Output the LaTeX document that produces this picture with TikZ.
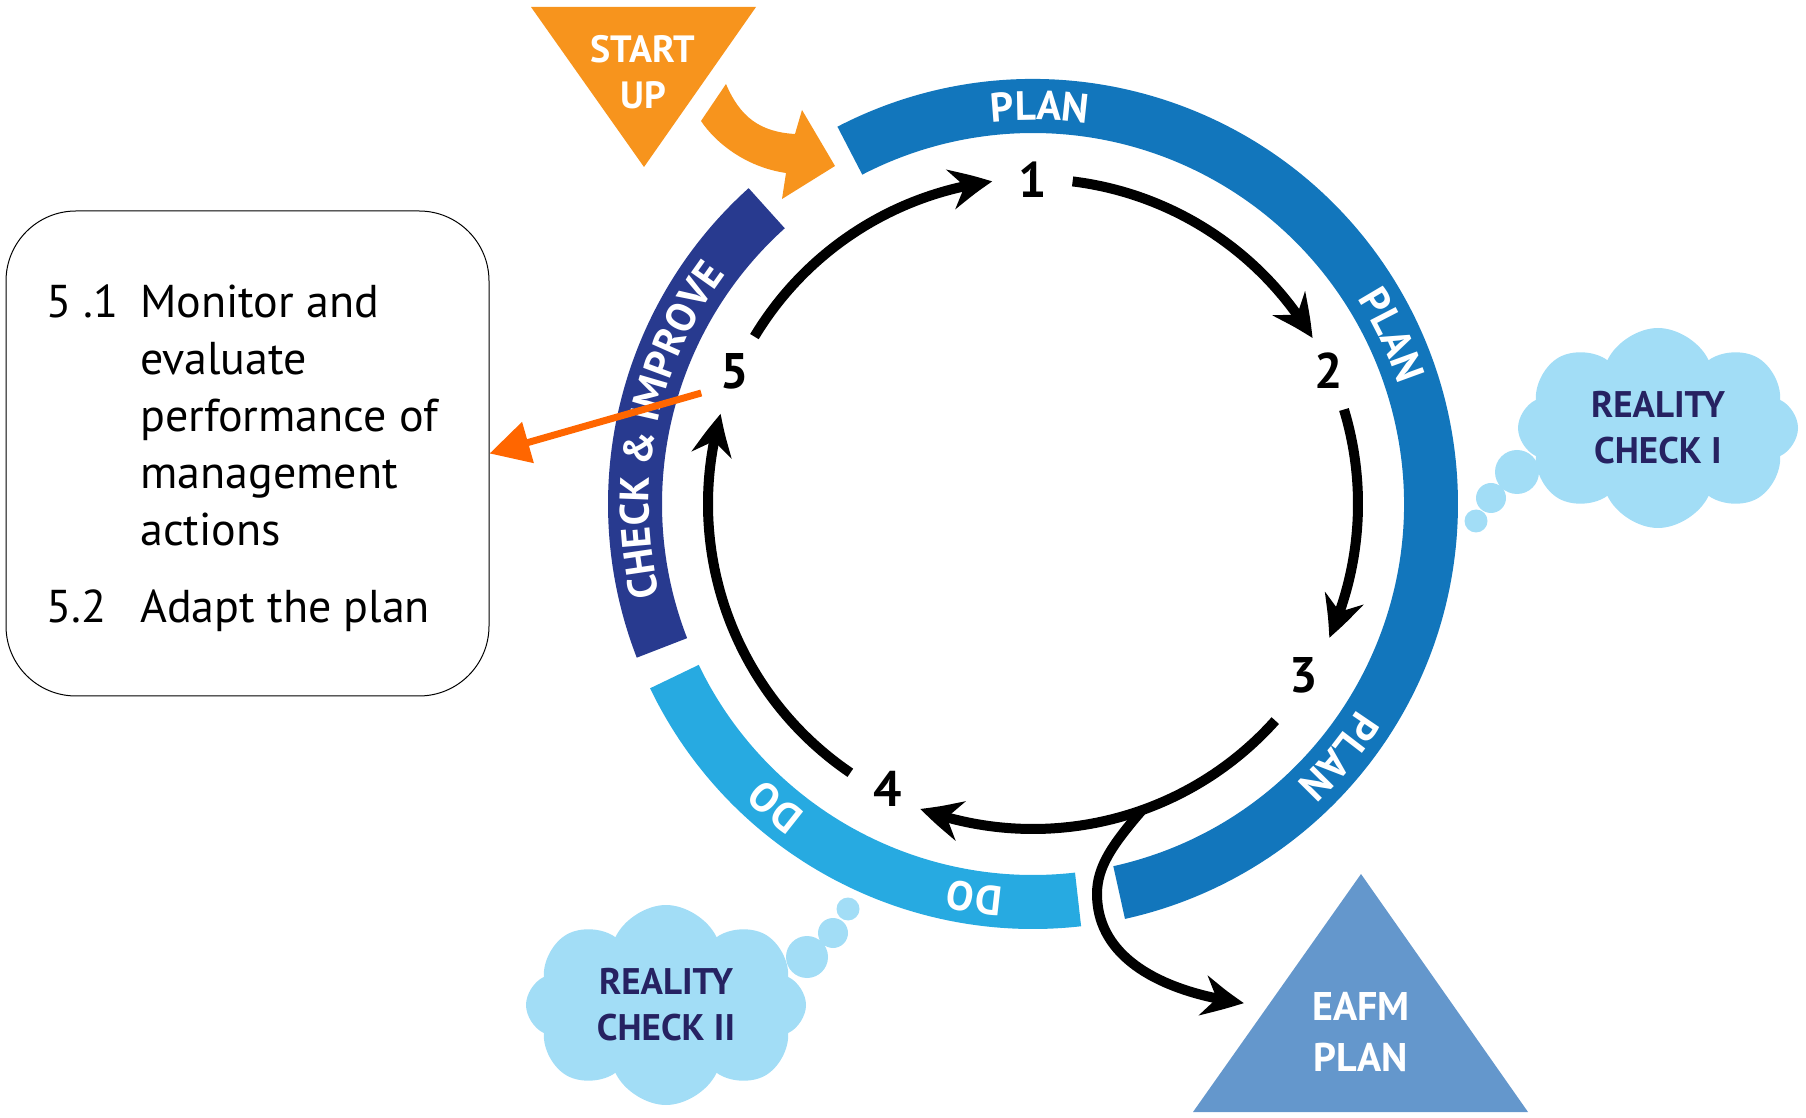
\documentclass[tikz,border=0pt]{standalone}
\usepackage{fontspec}
\setmainfont{PT Sans}
\usetikzlibrary{calc}
\usetikzlibrary{bending}
\usetikzlibrary{arrows.meta}
\usetikzlibrary{shapes.symbols}
\usetikzlibrary{decorations.text}
\definecolor{planblue}{HTML}{1276BC}
\definecolor{doblue}{HTML}{27AAE1}
\definecolor{checkblue}{HTML}{283A8F}
\definecolor{startorange}{HTML}{F7941D}
\definecolor{linkorange}{HTML}{FF6600}
\definecolor{cloudblue}{HTML}{A2DDF6}
\definecolor{cloudtext}{HTML}{262262}
\definecolor{eafmblue}{HTML}{6497CC}
\newcommand{\bandfont}{\fontsize{41}{41}\selectfont\bfseries}
\tikzstyle{cyclearrow}=[line width=10pt,-{Stealth[length=42pt,width=40pt,inset=14pt,bend]}]
\tikzstyle{cyclenum}=[font=\fontsize{50}{50}\selectfont\bfseries,inner sep=0pt]
\tikzstyle{thought}=[cloud,cloud puffs=8,cloud puff arc=130,aspect=1.3,fill=cloudblue,text=cloudtext,font=\fontsize{37}{46}\selectfont\bfseries,align=center,minimum width=280pt,minimum height=200pt]
\tikzstyle{whitelabel}=[text=white,font=\fontsize{38}{46}\selectfont\bfseries,align=center]
\def\ringpart[#1](#2)(#3:#4)% Syntax: [fill colour] (center) (initial angle:final angle)
    { \fill[#1] ($(#2)+(#3:425)$) arc (#3:#4:425) -- ($(#2)+(#4:371)$) arc (#4:#3:371) -- cycle; }
\def\ringlabel(#1)(#2)#3% Syntax: (center) (mid angle) {text}, always read clockwise
    { \path[decorate,decoration={text along path,text align=center,text color=white,text={|\bandfont|#3}}] ($(#1)+(#2+40:384)$) arc (#2+40:#2-40:384); }
\newcommand{\cyclearc}[2]{ % from angle, to angle on the inner cycle
\draw[cyclearrow] ($(C)+(#1:325)$) arc (#1:#2:325);
}
\begin{document}
\begin{tikzpicture}[x=1pt,y=1pt]
\useasboundingbox (0,0) rectangle (1806,1117);
\coordinate (C) at (1033,613);
% the ring
\ringpart[planblue](C)(117.4:-77.5)
\ringpart[doblue](C)(205.7:276.5)
\ringpart[checkblue](C)(201.2:132)
\ringlabel(C)(89){PLAN}
\ringlabel(C)(25.2){PLAN}
\ringlabel(C)(-39.6){PLAN}
\ringlabel(C)(-98.5){DO}
\ringlabel(C)(-130.4){DO}
\ringlabel(C)(168.5){CHECK {\&} IMPROVE}
% start up
\fill[startorange] (531,1110) -- (756,1110) -- (644,950) -- cycle;
\node[whitelabel] (startup) at (643,1045) {START\\UP};
\fill[startorange] (726,1033) .. controls (740,1000) and (760,985) .. (795,983) -- (802,1007) -- (835,951) -- (782,918) -- (786,944) .. controls (745,950) and (715,975) .. (701,996) -- cycle;
% steps
\foreach \i/\a/\r in {1/90/324, 2/24.3/324, 3/-32.3/320, 4/-117/320, 5/156/327}
  \node[cyclenum] (n\i) at ($(C)+(\a:\r)$) {\i};
\cyclearc{83}{30.7}
\cyclearc{16.9}{-24.3}
\cyclearc{-41.8}{-110.3}
\cyclearc{235.8}{163.9}
\cyclearc{149}{97.2}
% way out to the plan
\coordinate (split) at ($(C)+(-70.4:325)$);
\fill[eafmblue] (1361,243) -- (1528,5) -- (1193,5) -- cycle;
\node[whitelabel,font=\fontsize{40}{51}\selectfont\bfseries] (eafm) at (1361,85) {EAFM\\PLAN};
\coordinate (eafmin) at (1244,114);
\draw[cyclearrow] (split) .. controls (1112,272) and (1097,250) .. (1097,223) .. controls (1097,160) and (1160,125) .. (eafmin);
% step 5 details
\node[draw,rounded corners=70pt,line width=1pt,minimum width=483pt,minimum height=485pt] (steps) at (247.5,663.5) {};
\node[anchor=base west,inner sep=0pt,font=\fontsize{46}{57}\selectfont] (stepstext) at (46,799) {\begin{tabular}[t]{@{}p{94pt}@{}l@{}}
5 .1 & Monitor and\\
 & evaluate\\
 & performance of\\
 & management\\
 & actions\\[20pt]
5.2 & Adapt the plan
\end{tabular}};
\coordinate (out5) at ($(n5)+(-33,-22)$);
\draw[linkorange,line width=7pt,-{Triangle[length=40pt,width=41pt]}] (out5) -- (steps.east);
% reality checks
\node[thought] (rc1) at (1658,689) {REALITY\\CHECK I};
\fill[cloudblue] (1517,645) circle (22) (1491,619) circle (15) (1476,596) circle (11.5);
\node[thought] (rc2) at (666,112) {REALITY\\CHECK II};
\fill[cloudblue] (807,160) circle (21) (833,184) circle (15) (848,208) circle (11.5);
\end{tikzpicture}
\end{document}
